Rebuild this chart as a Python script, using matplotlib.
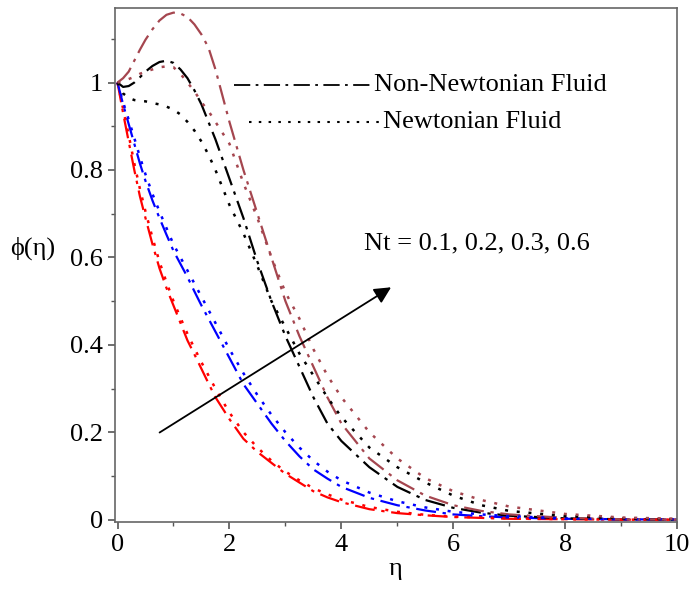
import matplotlib
matplotlib.use("Agg")
import matplotlib.pyplot as plt
from matplotlib.ticker import MultipleLocator

plt.rcParams['font.family'] = ['Liberation Serif', 'DejaVu Serif']

eta = [0, 0.1, 0.2, 0.3, 0.4, 0.5, 0.625, 0.75, 0.875, 1, 1.125, 1.25, 1.375, 1.5, 1.625,
       1.75, 1.875, 2, 2.25, 2.5, 2.75, 3, 3.25, 3.5, 3.75, 4, 4.5, 5, 5.5, 6, 6.5, 7, 8, 9, 10]

# Non-Newtonian fluid, Nt = 0.1, 0.2, 0.3, 0.6
nn_01 = [1, 0.93, 0.865, 0.8, 0.74, 0.69, 0.63, 0.575, 0.53, 0.49, 0.45, 0.41, 0.378, 0.345, 0.312,
         0.28, 0.255, 0.23, 0.185, 0.155, 0.13, 0.105, 0.085, 0.065, 0.051, 0.04, 0.024, 0.015,
         0.01, 0.006, 0.004, 0.002, 0.001, 0.0, 0.0]
nn_02 = [1, 0.95, 0.905, 0.86, 0.815, 0.775, 0.73, 0.69, 0.652, 0.615, 0.585, 0.555, 0.522, 0.49, 0.46,
         0.43, 0.4, 0.37, 0.31, 0.265, 0.22, 0.18, 0.145, 0.115, 0.094, 0.075, 0.05, 0.033,
         0.021, 0.012, 0.008, 0.005, 0.002, 0.001, 0.0]
nn_03 = [1, 0.99, 0.992, 1.0, 1.012, 1.025, 1.038, 1.047, 1.05, 1.045, 1.03, 1.01, 0.982, 0.95, 0.91,
         0.87, 0.825, 0.78, 0.69, 0.59, 0.50, 0.42, 0.35, 0.28, 0.22, 0.18, 0.12, 0.075,
         0.045, 0.027, 0.016, 0.009, 0.003, 0.001, 0.0]
nn_06 = [1, 1.01, 1.025, 1.05, 1.075, 1.098, 1.122, 1.142, 1.155, 1.16, 1.158, 1.15, 1.133, 1.11, 1.08,
         1.03, 0.97, 0.91, 0.8, 0.70, 0.60, 0.50, 0.42, 0.35, 0.28, 0.22, 0.14, 0.09,
         0.055, 0.033, 0.02, 0.012, 0.004, 0.001, 0.0]

# Newtonian fluid
nw_01 = [1, 0.94, 0.88, 0.815, 0.757, 0.705, 0.645, 0.59, 0.543, 0.5, 0.462, 0.425, 0.392, 0.36, 0.33,
         0.3, 0.272, 0.245, 0.2, 0.165, 0.135, 0.11, 0.09, 0.072, 0.058, 0.046, 0.029, 0.018,
         0.011, 0.007, 0.005, 0.003, 0.001, 0.0, 0.0]
nw_02 = [1, 0.955, 0.915, 0.873, 0.83, 0.79, 0.745, 0.705, 0.667, 0.63, 0.6, 0.57, 0.54, 0.51, 0.48,
         0.45, 0.42, 0.39, 0.335, 0.285, 0.24, 0.2, 0.165, 0.135, 0.11, 0.09, 0.062, 0.042,
         0.028, 0.018, 0.012, 0.008, 0.003, 0.001, 0.001]
nw_03 = [1, 0.975, 0.965, 0.96, 0.958, 0.957, 0.953, 0.95, 0.945, 0.938, 0.927, 0.91, 0.89, 0.865, 0.835,
         0.8, 0.76, 0.72, 0.655, 0.58, 0.5, 0.44, 0.38, 0.33, 0.28, 0.235, 0.165, 0.12,
         0.085, 0.055, 0.033, 0.02, 0.008, 0.003, 0.001]
nw_06 = [1, 1.003, 1.008, 1.013, 1.02, 1.025, 1.03, 1.035, 1.037, 1.035, 1.02, 1.0, 0.98, 0.955, 0.935,
         0.91, 0.885, 0.86, 0.77, 0.69, 0.60, 0.52, 0.46, 0.39, 0.33, 0.28, 0.20, 0.14,
         0.095, 0.065, 0.045, 0.03, 0.013, 0.005, 0.002]

colores = ['#ff0000', '#0000ff', '#000000', '#a5464f']
nn_series = [nn_01, nn_02, nn_03, nn_06]
nw_series = [nw_01, nw_02, nw_03, nw_06]

dashdot = (0, (9, 3, 1.5, 3))
punteado = (0, (1.2, 3.5))

fig = plt.figure(figsize=(6.91, 5.89), dpi=100)
ax = fig.add_axes([0.166, 0.114, 0.814, 0.872])

for c, y in zip(colores, nn_series):
    ax.plot(eta, y, color=c, linestyle=dashdot, linewidth=1.6)
for c, y in zip(colores, nw_series):
    ax.plot(eta, y, color=c, linestyle=punteado, linewidth=1.8)

# leyenda a mano como en el original
ax.plot([2.08, 4.57], [0.995, 0.995], color='black', linestyle=dashdot, linewidth=1.3)
ax.text(4.59, 0.995, "Non-Newtonian Fluid", fontsize=19, va='center', ha='left')
ax.plot([2.35, 4.72], [0.909, 0.909], color='black', linestyle=punteado, linewidth=1.5)
ax.text(4.74, 0.909, "Newtonian Fluid", fontsize=19, va='center', ha='left')

ax.text(4.41, 0.633, "Nt = 0.1, 0.2, 0.3, 0.6", fontsize=19, va='center', ha='left')
ax.annotate("", xy=(4.93, 0.535), xytext=(0.71, 0.196),
            arrowprops=dict(arrowstyle="-|>", color='black', lw=1.3, mutation_scale=25))

ax.set_xlim(-0.05, 10)
ax.set_ylim(-0.005, 1.17)
ax.xaxis.set_minor_locator(MultipleLocator(1))
ax.yaxis.set_minor_locator(MultipleLocator(0.1))
ax.set_xticks([0, 2, 4, 6, 8, 10])
ax.set_xticklabels(["0", "2", "4", "6", "8", "10"])
ax.set_yticks([0, 0.2, 0.4, 0.6, 0.8, 1])
ax.set_yticklabels(["0", "0.2", "0.4", "0.6", "0.8", "1"])
ax.tick_params(which='major', direction='out', length=5, width=1.2, labelsize=19, color='#555555')
ax.tick_params(which='minor', direction='out', length=3, width=1.0, color='#555555')
for s in ax.spines.values():
    s.set_color('#666666')
    s.set_linewidth(1.2)

ax.set_xlabel("η", fontsize=19, labelpad=2)
ax.set_ylabel("ϕ(η)", fontsize=19, rotation=0)
ax.yaxis.set_label_coords(-0.145, 0.51)

fig.savefig("out.png", dpi=100)
